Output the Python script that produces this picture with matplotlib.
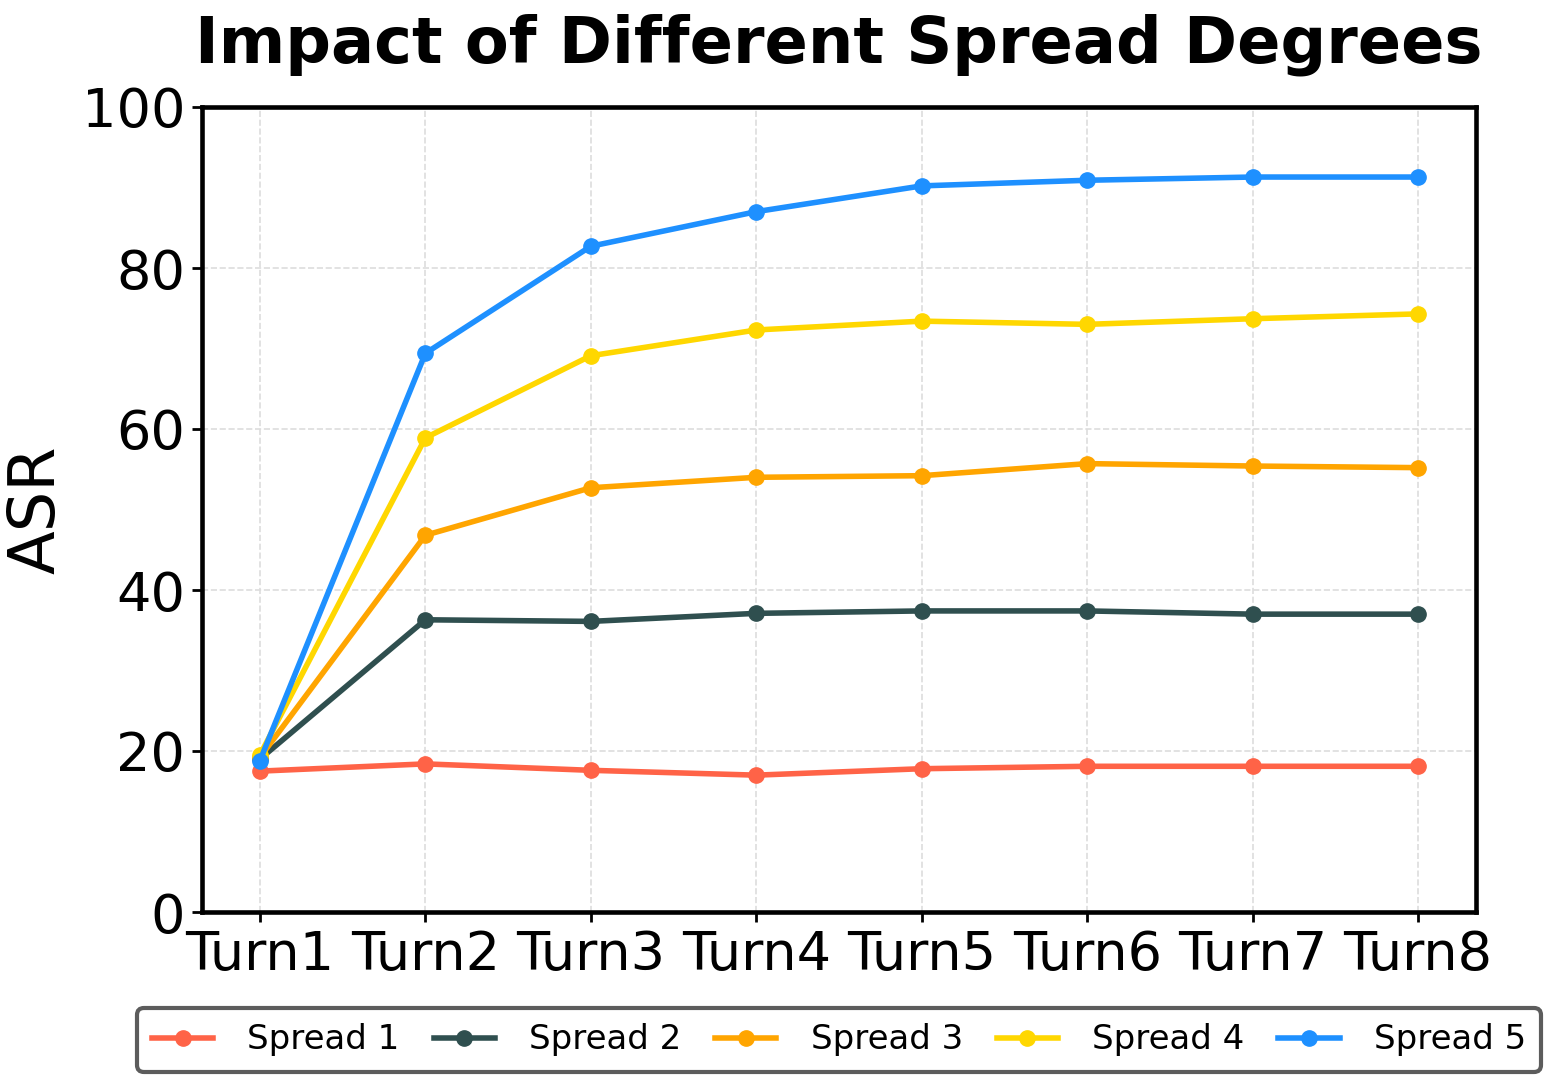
import matplotlib
matplotlib.use("Agg")
from matplotlib import pyplot as plt

#------------------------------------------#
# Data
#------------------------------------------#

turns = ["Turn1", "Turn2", "Turn3", "Turn4", "Turn5", "Turn6", "Turn7", "Turn8"]
labels = ["Spread 1", "Spread 2", "Spread 3", "Spread 4", "Spread 5"]

spread1 = [17.5, 18.4, 17.6, 17.0, 17.8, 18.1, 18.1, 18.1]
spread2 = [19.0, 36.3, 36.1, 37.1, 37.4, 37.4, 37.0, 37.0]
spread3 = [19.2, 46.8, 52.7, 54.0, 54.2, 55.7, 55.4, 55.2]
spread4 = [19.5, 58.9, 69.1, 72.3, 73.4, 73.0, 73.7, 74.3]
spread5 = [18.8, 69.4, 82.7, 87.0, 90.2, 90.9, 91.3, 91.3]

colors = ["#FF6347", "#2F4F4F", "#FFA500", "#FFD700", "#1E90FF"]

#------------------------------------------#
# Plot
#------------------------------------------#

fig = plt.figure(figsize=(15.55, 10.83), dpi=100)
ax = fig.add_axes([202/1555, 1-912/1083, (1476-202)/1555, (912-107)/1083])

x = list(range(len(turns)))
for ys, lab, c in zip([spread1, spread2, spread3, spread4, spread5], labels, colors):
    ax.plot(x, ys, color=c, label=lab, linewidth=4, marker="o", markersize=11)

ax.set_xlim(-0.35, 7.35)
ax.set_ylim(0, 100)
ax.set_xticks(x)
ax.set_xticklabels(turns)
ax.set_yticks([0, 20, 40, 60, 80, 100])
ax.tick_params(axis="both", labelsize=39, width=2, length=7, pad=5)
ax.grid(True, linestyle="--", color="#dddddd", linewidth=1.2)
for s in ax.spines.values():
    s.set_linewidth(3.3)

ax.set_ylabel("ASR", fontsize=46, labelpad=10)
ax.set_title("Impact of Different Spread Degrees", fontsize=46, fontweight="bold", pad=32)

leg = fig.legend(loc="center", bbox_to_anchor=(839/1555, 1-1040/1083), ncol=5,
                 fontsize=24.5, frameon=True, fancybox=True, handlelength=1.8,
                 handletextpad=1.0, columnspacing=1.0, borderpad=0.45)
leg.get_frame().set_edgecolor("#333333")
leg.get_frame().set_linewidth(3)

fig.savefig("out.png", dpi=100)
